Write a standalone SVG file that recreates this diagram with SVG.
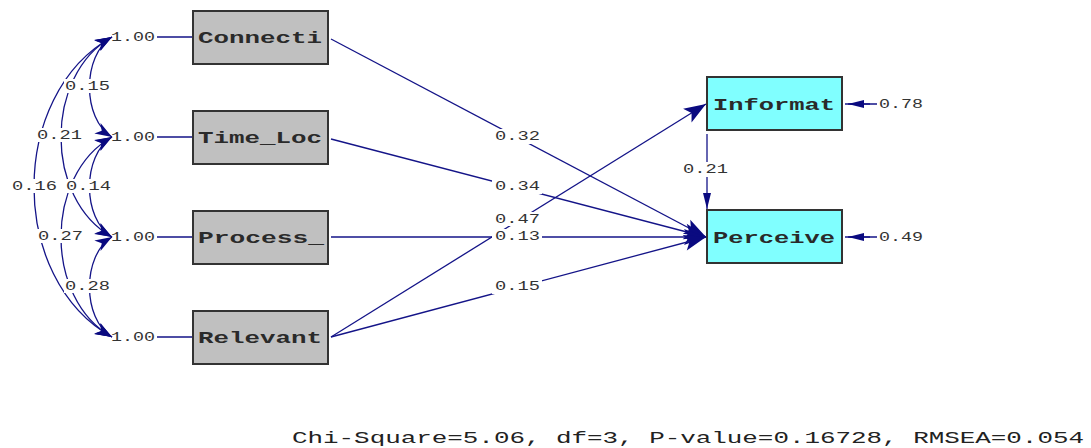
<svg xmlns="http://www.w3.org/2000/svg" width="1091" height="448" viewBox="0 0 1091 448">
<style>
.obs rect{stroke:#333;stroke-width:2}
.x rect{fill:#c0c0c0}
.y rect{fill:#80ffff}
.nt{font-family:"Liberation Mono","Courier New",monospace;font-size:17px;font-weight:bold;fill:#2a2a2a}
.lb{font-family:"Liberation Mono","Courier New",monospace;font-size:13px;fill:#333}
.bg{fill:#fff}
.c{fill:none;stroke:#141488;stroke-width:1.3}
.ft{font-family:"Liberation Mono","Courier New",monospace;font-size:16px;fill:#222}
</style>
<defs>
<marker id="ah" viewBox="-23 -9 24 18" refX="0" refY="0" markerWidth="24" markerHeight="18" markerUnits="userSpaceOnUse" orient="auto-start-reverse"><path d="M0,0 L-22,-8 L-17,0 L-22,8 z" fill="#0a0a80"/></marker>
<marker id="ahc" viewBox="-18 -7 19 14" refX="0" refY="0" markerWidth="19" markerHeight="14" markerUnits="userSpaceOnUse" orient="auto-start-reverse"><path d="M0,0 L-17,-6 L-12,0 L-17,6 z" fill="#0a0a80"/></marker>
<marker id="ahs" viewBox="-17 -5 18 10" refX="0" refY="0" markerWidth="18" markerHeight="10" markerUnits="userSpaceOnUse" orient="auto"><path d="M0,0 L-16,-4 L-16,4 z" fill="#0a0a80"/></marker>
</defs>
<rect width="1091" height="448" fill="#fff"/>
<g id="connectors">
<path class="c" d="M112,37 C82,55 82,119 112,137" marker-start="url(#ahc)" marker-end="url(#ahc)"/>
<path class="c" d="M112,37 C44,75 44,199 112,237" marker-start="url(#ahc)" marker-end="url(#ahc)"/>
<path class="c" d="M112,37 C8,95 8,279 112,337" marker-start="url(#ahc)" marker-end="url(#ahc)"/>
<path class="c" d="M112,137 C82,155 82,219 112,237" marker-start="url(#ahc)" marker-end="url(#ahc)"/>
<path class="c" d="M112,137 C44,175 44,299 112,337" marker-start="url(#ahc)" marker-end="url(#ahc)"/>
<path class="c" d="M112,237 C82,255 82,319 112,337" marker-start="url(#ahc)" marker-end="url(#ahc)"/>
<path class="c" d="M157,37 H192 M157,137 H192 M157,237 H192 M157,337 H192"/>
<path class="c" d="M331,39 L706,237" marker-end="url(#ah)"/>
<path class="c" d="M331,139 L706,237" marker-end="url(#ah)"/>
<path class="c" d="M331,237 L706,237" marker-end="url(#ah)"/>
<path class="c" d="M331,337 L706,237" marker-end="url(#ah)"/>
<path class="c" d="M331,337 L706,104" marker-end="url(#ah)"/>
<path class="c" d="M707,134 L707,209" marker-end="url(#ahs)"/>
<path class="c" d="M877,104 L845,104 M877,237 L845,237"/>
<path class="c" d="M870,104 L848,104" marker-end="url(#ahs)"/>
<path class="c" d="M870,237 L848,237" marker-end="url(#ahs)"/>
</g>
<g id="labels">
<rect class="bg" x="64" y="79" width="47" height="14"/><text class="lb" x="65" y="90" textLength="45" lengthAdjust="spacingAndGlyphs">0.15</text>
<rect class="bg" x="36" y="128" width="47" height="14"/><text class="lb" x="37" y="139" textLength="45" lengthAdjust="spacingAndGlyphs">0.21</text>
<rect class="bg" x="11" y="179" width="47" height="14"/><text class="lb" x="12" y="190" textLength="45" lengthAdjust="spacingAndGlyphs">0.16</text>
<rect class="bg" x="65" y="179" width="47" height="14"/><text class="lb" x="66" y="190" textLength="45" lengthAdjust="spacingAndGlyphs">0.14</text>
<rect class="bg" x="37" y="229" width="47" height="14"/><text class="lb" x="38" y="240" textLength="45" lengthAdjust="spacingAndGlyphs">0.27</text>
<rect class="bg" x="64" y="279" width="47" height="14"/><text class="lb" x="65" y="290" textLength="45" lengthAdjust="spacingAndGlyphs">0.28</text>
<rect class="bg" x="113" y="30" width="44" height="14"/><text class="lb" x="111" y="41" textLength="44" lengthAdjust="spacingAndGlyphs">1.00</text>
<rect class="bg" x="113" y="130" width="44" height="14"/><text class="lb" x="111" y="141" textLength="44" lengthAdjust="spacingAndGlyphs">1.00</text>
<rect class="bg" x="113" y="230" width="44" height="14"/><text class="lb" x="111" y="241" textLength="44" lengthAdjust="spacingAndGlyphs">1.00</text>
<rect class="bg" x="113" y="330" width="44" height="14"/><text class="lb" x="111" y="341" textLength="44" lengthAdjust="spacingAndGlyphs">1.00</text>
<rect class="bg" x="492" y="129" width="50" height="15"/><text class="lb" x="495" y="140" textLength="45" lengthAdjust="spacingAndGlyphs">0.32</text>
<rect class="bg" x="492" y="179" width="50" height="15"/><text class="lb" x="495" y="190" textLength="45" lengthAdjust="spacingAndGlyphs">0.34</text>
<rect class="bg" x="492" y="212" width="50" height="14"/><text class="lb" x="495" y="223" textLength="45" lengthAdjust="spacingAndGlyphs">0.47</text>
<rect class="bg" x="492" y="229" width="50" height="15"/><text class="lb" x="495" y="240" textLength="45" lengthAdjust="spacingAndGlyphs">0.13</text>
<rect class="bg" x="492" y="279" width="50" height="15"/><text class="lb" x="495" y="290" textLength="45" lengthAdjust="spacingAndGlyphs">0.15</text>
<rect class="bg" x="681" y="162" width="48" height="15"/><text class="lb" x="683" y="173" textLength="45" lengthAdjust="spacingAndGlyphs">0.21</text>
<text class="lb" x="879" y="108" textLength="44" lengthAdjust="spacingAndGlyphs">0.78</text>
<text class="lb" x="879" y="241" textLength="44" lengthAdjust="spacingAndGlyphs">0.49</text>
</g>
<g id="Connecti" class="obs x"><rect x="193" y="11" width="135" height="53"/><text class="nt" x="198" y="43" textLength="124" lengthAdjust="spacingAndGlyphs">Connecti</text></g>
<g id="Time_Loc" class="obs x"><rect x="193" y="111" width="135" height="53"/><text class="nt" x="198" y="143" textLength="124" lengthAdjust="spacingAndGlyphs">Time_Loc</text></g>
<g id="Process_" class="obs x"><rect x="193" y="211" width="135" height="53"/><text class="nt" x="198" y="243" textLength="126" lengthAdjust="spacingAndGlyphs">Process_</text></g>
<g id="Relevant" class="obs x"><rect x="193" y="311" width="135" height="53"/><text class="nt" x="198" y="343" textLength="124" lengthAdjust="spacingAndGlyphs">Relevant</text></g>
<g id="Informat" class="obs y"><rect x="707" y="77" width="135" height="53"/><text class="nt" x="713" y="110" textLength="122" lengthAdjust="spacingAndGlyphs">Informat</text></g>
<g id="Perceive" class="obs y"><rect x="707" y="210" width="135" height="53"/><text class="nt" x="713" y="243" textLength="122" lengthAdjust="spacingAndGlyphs">Perceive</text></g>
<text class="ft" x="292" y="443" textLength="792" lengthAdjust="spacingAndGlyphs">Chi-Square=5.06, df=3, P-value=0.16728, RMSEA=0.054</text>
</svg>
